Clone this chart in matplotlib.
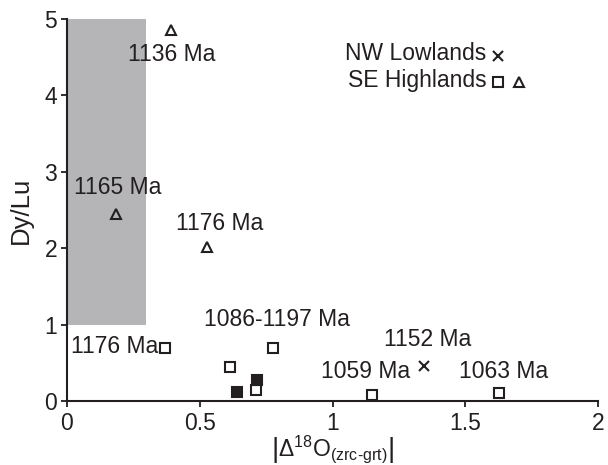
import matplotlib
matplotlib.use("Agg")
import matplotlib.pyplot as plt
from matplotlib.patches import Rectangle

plt.rcParams['font.family'] = ['Liberation Sans', 'DejaVu Sans']
plt.rcParams['mathtext.fontset'] = 'custom'
plt.rcParams['mathtext.rm'] = 'Liberation Sans'
plt.rcParams['mathtext.it'] = 'Liberation Sans:italic'

# SE Highlands, triangles
tri_x = [0.39, 0.185, 0.527]
tri_y = [4.86, 2.45, 2.02]

# SE Highlands, open squares
sq_x = [0.371, 0.614, 0.775, 0.711, 1.148, 1.626]
sq_y = [0.69, 0.45, 0.70, 0.145, 0.08, 0.10]

# filled squares
fsq_x = [0.639, 0.714]
fsq_y = [0.12, 0.275]

# NW Lowlands, cross
nw_x = [1.344]
nw_y = [0.46]

# age labels
lab_text = ["1136 Ma", "1165 Ma", "1176 Ma", "1176 Ma", "1086-1197 Ma",
            "1152 Ma", "1059 Ma", "1063 Ma"]
lab_x = [0.395, 0.19, 0.576, 0.179, 0.791, 1.357, 1.123, 1.642]
lab_y = [4.53, 2.80, 2.32, 0.71, 1.066, 0.81, 0.38, 0.38]

# grey field
field_x = (0.0, 0.297)
field_y = (1.0, 5.0)

fig = plt.figure(figsize=(6.08, 4.65), dpi=100)
ax = fig.add_axes([0.110, 0.1376, 0.874, 0.8214])

ax.add_patch(Rectangle((field_x[0], field_y[0]), field_x[1] - field_x[0],
                       field_y[1] - field_y[0], facecolor='#b5b5b8',
                       edgecolor='none', zorder=0))

mk = dict(linestyle='none', markeredgewidth=1.5, markeredgecolor='#231f20')
ax.plot(tri_x, tri_y, marker='^', markersize=7, markerfacecolor='none', **mk)
ax.plot(sq_x, sq_y, marker='s', markersize=7.5, markerfacecolor='white', **mk)
ax.plot(fsq_x, fsq_y, marker='s', markersize=7.5, markerfacecolor='#231f20', **mk)
ax.plot(nw_x, nw_y, marker='x', markersize=7, **mk)

for t, x, y in zip(lab_text, lab_x, lab_y):
    ax.text(x, y, t, ha='center', va='center', fontsize=16.5, color='#231f20')

# legend drawn as text + markers
ax.text(0.790, 0.909, "NW Lowlands", transform=ax.transAxes, ha='right',
        va='center', fontsize=16.5, color='#231f20')
ax.text(0.790, 0.840, "SE Highlands", transform=ax.transAxes, ha='right',
        va='center', fontsize=16.5, color='#231f20')
ax.plot([0.811], [0.904], transform=ax.transAxes, marker='x', markersize=7, **mk)
ax.plot([0.811], [0.834], transform=ax.transAxes, marker='s', markersize=6.5,
        markerfacecolor='none', **mk)
ax.plot([0.850], [0.834], transform=ax.transAxes, marker='^', markersize=6.5,
        markerfacecolor='none', **mk)

ax.set_xlim(0, 2)
ax.set_ylim(0, 5)
ax.set_xticks([0, 0.5, 1, 1.5, 2])
ax.set_xticklabels(['0', '0.5', '1', '1.5', '2'])
ax.set_yticks([0, 1, 2, 3, 4, 5])
ax.tick_params(direction='out', length=4, width=1.3, labelsize=16.5,
               colors='#231f20', pad=3)
ax.tick_params(axis='x', pad=4)
for s in ['top', 'right']:
    ax.spines[s].set_visible(False)
for s in ['left', 'bottom']:
    ax.spines[s].set_linewidth(1.5)
    ax.spines[s].set_color('#231f20')

ax.set_ylabel("Dy/Lu", fontsize=18.5, color='#231f20', labelpad=8)
ax.set_xlabel(r"$\left|\Delta^{18}\mathrm{O}_{(\mathrm{zrc\text{-}grt})}\right|$",
              fontsize=16.5, color='#231f20', labelpad=-1.5)

fig.savefig("out.png", dpi=100)
